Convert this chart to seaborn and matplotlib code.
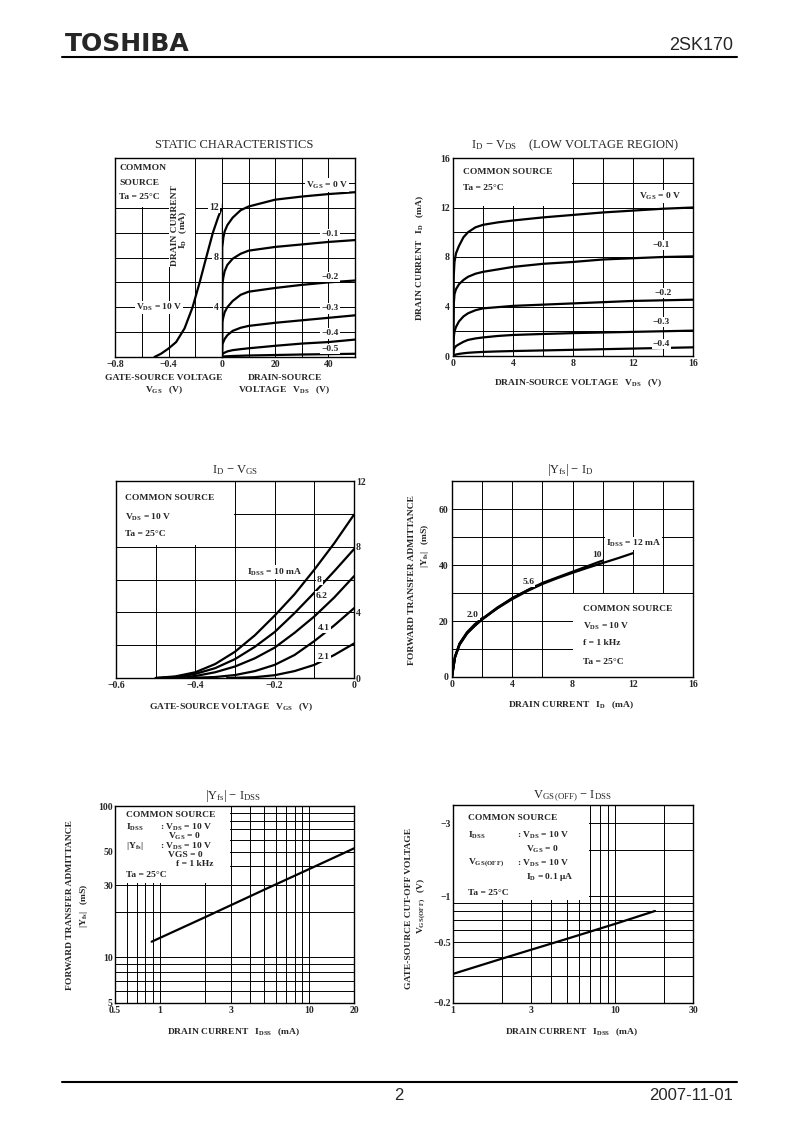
import matplotlib
matplotlib.use('Agg')
import seaborn as sns
import matplotlib.pyplot as plt
from matplotlib.patches import Rectangle
from matplotlib.lines import Line2D
from matplotlib.ticker import NullFormatter

# ---- values ----

# static characteristics, left half: ID vs VGS at VDS = 10 V
st_vgs = [-0.505, -0.455, -0.40, -0.343, -0.28, -0.22, -0.167, -0.118, -0.068, -0.03, -0.005]
st_id = [0, 0.27, 0.68, 1.2, 2.3, 4.0, 6.0, 8.0, 10.0, 11.2, 11.9]

# static characteristics, right half: ID vs VDS (0..50 V)
st_vds = [0, 0.1, 0.5, 1, 2, 4, 7, 10, 20, 30, 40, 50]
st_id_0 = [0, 8.8, 9.6, 10.1, 10.6, 11.2, 11.8, 12.1, 12.65, 12.9, 13.1, 13.25]
st_id_1 = [0, 5.8, 6.4, 6.9, 7.4, 7.9, 8.3, 8.55, 8.85, 9.05, 9.25, 9.4]
st_id_2 = [0, 2.8, 3.2, 3.6, 4.0, 4.5, 5.0, 5.25, 5.55, 5.8, 6.0, 6.15]
st_id_3 = [0, 1.0, 1.2, 1.45, 1.75, 2.1, 2.35, 2.5, 2.75, 2.95, 3.15, 3.35]
st_id_4 = [0, 0.2, 0.3, 0.35, 0.45, 0.55, 0.63, 0.7, 0.9, 1.08, 1.2, 1.4]
st_id_5 = [0, 0.02, 0.04, 0.05, 0.06, 0.08, 0.1, 0.12, 0.16, 0.2, 0.23, 0.26]
st_labels = [r'$\mathbf{V_{GS}}$ = 0 V', '−0.1', '−0.2', '−0.3', '−0.4', '−0.5']

# ID - VDS low voltage region
lv_vds = [0, 0.05, 0.1, 0.2, 0.4, 0.7, 1, 1.5, 2, 3, 4, 6, 8, 10, 12, 14, 16]
lv_id_0 = [0, 6.5, 7.6, 8.3, 8.9, 9.6, 10.0, 10.4, 10.6, 10.8, 10.95, 11.2, 11.4, 11.6, 11.75, 11.9, 12.0]
lv_id_1 = [0, 4.2, 5.0, 5.4, 5.8, 6.15, 6.4, 6.65, 6.8, 7.0, 7.2, 7.45, 7.6, 7.8, 7.9, 8.0, 8.05]
lv_id_2 = [0, 1.5, 2.0, 2.35, 2.8, 3.2, 3.45, 3.7, 3.85, 3.95, 4.05, 4.15, 4.25, 4.35, 4.45, 4.5, 4.55]
lv_id_3 = [0, 0.45, 0.65, 0.8, 0.95, 1.15, 1.3, 1.42, 1.5, 1.62, 1.7, 1.78, 1.85, 1.9, 1.95, 2.0, 2.05]
lv_id_4 = [0, 0.04, 0.08, 0.12, 0.17, 0.22, 0.26, 0.3, 0.33, 0.37, 0.4, 0.45, 0.5, 0.55, 0.6, 0.65, 0.7]
lv_labels = [r'$\mathbf{V_{GS}}$ = 0 V', '−0.1', '−0.2', '−0.3', '−0.4']

# ID - VGS for several IDSS
tv_vgs = [-0.5, -0.45, -0.4, -0.35, -0.3, -0.25, -0.2, -0.15, -0.1, -0.05, 0]
tv_id_10 = [0, 0.1, 0.35, 0.85, 1.6, 2.6, 3.8, 5.1, 6.6, 8.2, 9.95]
tv_id_8 = [0, 0.06, 0.25, 0.6, 1.15, 1.9, 2.8, 3.95, 5.2, 6.5, 7.85]
tv_vgs_62 = [-0.48, -0.45, -0.4, -0.35, -0.3, -0.25, -0.2, -0.15, -0.1, -0.05, 0]
tv_id_62 = [0, 0.02, 0.12, 0.35, 0.7, 1.2, 1.85, 2.75, 3.75, 4.9, 6.2]
tv_vgs_41 = [-0.42, -0.35, -0.3, -0.25, -0.2, -0.15, -0.1, -0.05, 0]
tv_id_41 = [0, 0.06, 0.18, 0.42, 0.8, 1.4, 2.25, 3.2, 4.25]
tv_vgs_21 = [-0.32, -0.25, -0.2, -0.15, -0.1, -0.05, 0]
tv_id_21 = [0, 0.05, 0.17, 0.42, 0.8, 1.4, 2.1]
tv_labels = [r'$\mathbf{I_{DSS}}$ = 10 mA', '8', '6.2', '4.1', '2.1']

# |Yfs| - ID
yf_id_12 = [0, 0.05, 0.2, 0.5, 1, 1.5, 2, 3, 4, 5, 6, 7, 8, 9, 10, 11, 12]
yf_12 = [0, 3, 7, 11.5, 15.5, 18.3, 20.5, 24.5, 27.8, 30.7, 33.2, 35.3, 37.2, 39.0, 40.7, 42.4, 44.2]
yf_id_10 = [0, 0.2, 0.5, 1, 2, 4, 6, 8, 10]
yf_10 = [0, 7.2, 11.8, 15.8, 20.8, 28.2, 33.6, 37.6, 41.6]
yf_id_56 = [0, 0.2, 0.5, 1, 2, 3, 4, 5, 5.6]
yf_56 = [0, 7.0, 11.6, 15.7, 20.7, 24.8, 28.1, 31.0, 32.6]
yf_id_20 = [0, 0.2, 0.5, 1, 1.5, 2.0]
yf_20 = [0, 7.3, 12.0, 16.0, 18.8, 21.0]
yf_labels = [r'$\mathbf{I_{DSS}}$ = 12 mA', '10', '5.6', '2.0']

# |Yfs| - IDSS
yi_idss = [0.88, 2, 5, 10, 20]
yi_yfs = [12.7, 18.4, 28.0, 38.3, 52.5]

# VGS(OFF) - IDSS
vo_idss = [1, 2, 3, 5, 10, 17.5]
vo_vgs = [-0.31, -0.39, -0.445, -0.525, -0.66, -0.80]

sns.set_style('white')
plt.rcParams['font.family'] = ['Liberation Serif', 'DejaVu Serif']
plt.rcParams['mathtext.fontset'] = 'custom'
plt.rcParams['mathtext.rm'] = 'Liberation Serif'
plt.rcParams['mathtext.bf'] = 'Liberation Serif:bold'
plt.rcParams['mathtext.it'] = 'Liberation Serif:italic'
plt.rcParams['axes.unicode_minus'] = True

W, H = 806, 1135
fig = plt.figure(figsize=(W / 100, H / 100), dpi=100)
SM = 6.8   # small bold text
TK = 7.0   # tick labels
TT = 9.0   # titles
CW = 1.6   # curve width


def add_ax(l, t, r, b):
    return fig.add_axes([l / W, 1 - b / H, (r - l) / W, (b - t) / H])


def txt(x, y, s, size=SM, bold=True, ha='center', va='center', rot=0, **kw):
    fig.text(x / W, 1 - y / H, s, fontsize=size, fontweight='bold' if bold else 'normal',
             ha=ha, va=va, rotation=rot, **kw)


def frame(ax):
    sns.despine(ax=ax, top=False, right=False, left=False, bottom=False)
    for s in ax.spines.values():
        s.set_color('black')
        s.set_linewidth(1.0)
    ax.set_axisbelow(True)
    ax.grid(True, which='both', color='black', lw=0.7)
    ax.tick_params(which='both', length=0, pad=2.5)


def curve(ax, xs, ys):
    sns.lineplot(x=xs, y=ys, ax=ax, color='black', lw=CW, estimator=None, sort=False)


def blank(ax, x0, y0, x1, y1):
    ax.add_patch(Rectangle((x0, y0), x1 - x0, y1 - y0, fc='white', ec='none', zorder=1))


WB = dict(boxstyle='square,pad=0.12', fc='white', ec='none')
tkw = dict(fontsize=TK, fontweight='bold')

# ---------------- header / footer ----------------
txt(65, 44, 'TOSHIBA', size=18, ha='left', family='DejaVu Sans')
txt(733, 45, '2SK170', size=13, bold=False, ha='right', family='Liberation Sans')
fig.add_artist(Line2D([62 / W, 737 / W], [1 - 57 / H] * 2, color='black', lw=1.5))
fig.add_artist(Line2D([62 / W, 737 / W], [1 - 1082 / H] * 2, color='black', lw=1.5))
txt(399, 1096, '2', size=12, bold=False, family='Liberation Sans')
txt(733, 1096, '2007-11-01', size=12, bold=False, ha='right', family='Liberation Sans')

# ---------------- STATIC CHARACTERISTICS ----------------
a1 = add_ax(115, 158, 222, 357)
b1 = add_ax(222, 158, 355, 357)
curve(a1, st_vgs, st_id)
for ys in [st_id_0, st_id_1, st_id_2, st_id_3, st_id_4, st_id_5]:
    curve(b1, st_vds, ys)
for ax in (a1, b1):
    frame(ax)
a1.set_xlim(-0.8, 0)
a1.set_ylim(0, 16)
b1.set_xlim(0, 50)
b1.set_ylim(0, 16)
a1.set_xticks([-0.8, -0.6, -0.4, -0.2, 0], ['−0.8', '', '−0.4', '', '0'], **tkw)
a1.set_yticks([2, 4, 6, 8, 10, 12], [''] * 6)
b1.set_xticks([0, 10, 20, 30, 40, 50], ['', '', '20', '', '40', ''], **tkw)
b1.set_yticks([2, 4, 6, 8, 10, 12, 14], [''] * 7)
b1.spines['left'].set_visible(False)
a1.spines['right'].set_bounds(0, 12.3)
blank(a1, -0.8, 12.1, -0.405, 16)
blank(a1, -0.395, 7.2, -0.205, 16)
blank(a1, -0.195, 12.1, 0, 16)
for s, y in zip(['COMMON', 'SOURCE', 'Ta = 25°C'], [15.2, 14.0, 12.9]):
    a1.text(-0.768, y, s, fontsize=SM, fontweight='bold', ha='left', va='center')
a1.text(-0.351, 10.55, 'DRAIN CURRENT', rotation=90, fontsize=SM, fontweight='bold', ha='center', va='center')
a1.text(-0.289, 10.2, r'$\mathbf{I_D}$   (mA)', rotation=90, fontsize=SM, fontweight='bold', ha='center', va='center')
a1.text(-0.471, 4.0, r'$\mathbf{V_{DS}}$ = 10 V', fontsize=SM, fontweight='bold', ha='center', va='center', bbox=WB)
for v in [12, 8, 4]:
    a1.text(-0.025, v, str(v), fontsize=TK, fontweight='bold', ha='right', va='center', bbox=WB)
for s, x, y in zip(st_labels, [39.5, 40.6, 40.6, 40.6, 40.6, 40.6], [13.83, 9.86, 6.46, 3.91, 1.9, 0.64]):
    b1.text(x, y, s, fontsize=SM, fontweight='bold', ha='center', va='center', bbox=WB)
txt(234, 145, 'STATIC CHARACTERISTICS', size=TT, bold=False)
txt(164, 378, 'GATE-SOURCE VOLTAGE')
txt(164, 390, r'$\mathbf{V_{GS}}$   (V)')
txt(285, 378, 'DRAIN-SOURCE')
txt(284, 390, r'VOLTAGE   $\mathbf{V_{DS}}$   (V)')

# ---------------- ID - VDS (LOW VOLTAGE REGION) ----------------
a2 = add_ax(453, 158, 693, 356)
for ys in [lv_id_0, lv_id_1, lv_id_2, lv_id_3, lv_id_4]:
    curve(a2, lv_vds, ys)
frame(a2)
a2.set_xlim(0, 16)
a2.set_ylim(0, 16)
a2.set_xticks(range(0, 17, 2), ['0', '', '4', '', '8', '', '12', '', '16'], **tkw)
a2.set_yticks(range(0, 17, 2), ['0', '', '4', '', '8', '', '12', '', '16'], **tkw)
blank(a2, 0, 12.1, 7.95, 16)
a2.text(0.69, 14.84, 'COMMON SOURCE', fontsize=SM, fontweight='bold', ha='left', va='center')
a2.text(0.69, 13.55, 'Ta = 25°C', fontsize=SM, fontweight='bold', ha='left', va='center')
for s, x, y in zip(lv_labels, [13.8, 13.9, 14.0, 13.9, 13.9], [12.87, 8.97, 5.07, 2.77, 0.95]):
    a2.text(x, y, s, fontsize=SM, fontweight='bold', ha='center', va='center', bbox=WB)
txt(575, 145, r'$\mathrm{I_D}$ − $\mathrm{V_{DS}}$    (LOW VOLTAGE REGION)', size=TT, bold=False)
txt(420, 258, r'DRAIN CURRENT   $\mathbf{I_D}$   (mA)', rot=90)
txt(578, 383, r'DRAIN-SOURCE VOLTAGE   $\mathbf{V_{DS}}$   (V)')

# ---------------- ID - VGS ----------------
a3 = add_ax(116, 481, 354, 678)
curve(a3, tv_vgs, tv_id_10)
curve(a3, tv_vgs, tv_id_8)
curve(a3, tv_vgs_62, tv_id_62)
curve(a3, tv_vgs_41, tv_id_41)
curve(a3, tv_vgs_21, tv_id_21)
frame(a3)
a3.set_xlim(-0.6, 0)
a3.set_ylim(0, 12)
a3.set_xticks([-0.6, -0.5, -0.4, -0.3, -0.2, -0.1, 0], ['−0.6', '', '−0.4', '', '−0.2', '', '0'], **tkw)
a3.yaxis.tick_right()
a3.set_yticks(range(0, 13, 2), ['0', '', '4', '', '8', '', '12'], **tkw)
a3.tick_params(axis='y', pad=1.5)
blank(a3, -0.6, 8.08, -0.303, 12)
for s, y in zip(['COMMON SOURCE', r'$\mathbf{V_{DS}}$ = 10 V', 'Ta = 25°C'], [10.96, 9.8, 8.77]):
    a3.text(-0.577, y, s, fontsize=SM, fontweight='bold', ha='left', va='center')
for s, x, y in zip(tv_labels, [-0.2, -0.088, -0.081, -0.077, -0.077], [6.45, 5.97, 4.99, 3.03, 1.3]):
    a3.text(x, y, s, fontsize=SM, fontweight='bold', ha='center', va='center', bbox=WB)
txt(235, 470, r'$\mathrm{I_D}$ − $\mathrm{V_{GS}}$', size=TT, bold=False)
txt(231, 707, r'GATE-SOURCE VOLTAGE   $\mathbf{V_{GS}}$   (V)')

# ---------------- |Yfs| - ID ----------------
a4 = add_ax(452, 481, 693, 677)
curve(a4, yf_id_12, yf_12)
curve(a4, yf_id_10, yf_10)
curve(a4, yf_id_56, yf_56)
curve(a4, yf_id_20, yf_20)
frame(a4)
a4.set_xlim(0, 16)
a4.set_ylim(0, 70)
a4.set_xticks(range(0, 17, 2), ['0', '', '4', '', '8', '', '12', '', '16'], **tkw)
a4.set_yticks(range(0, 71, 10), ['0', '', '20', '', '40', '', '60', ''], **tkw)
blank(a4, 8.06, 0, 16, 29.7)
for s, y in zip(['COMMON SOURCE', r'$\mathbf{V_{DS}}$ = 10 V', 'f = 1 kHz', 'Ta = 25°C'], [24.3, 18.2, 12.1, 5.4]):
    a4.text(8.7, y, s, fontsize=SM, fontweight='bold', ha='left', va='center')
for s, x, y in zip(yf_labels, [12.04, 9.6, 5.05, 1.36], [47.75, 43.6, 34.0, 22.1]):
    a4.text(x, y, s, fontsize=SM, fontweight='bold', ha='center', va='center', bbox=WB)
txt(570, 470, r'$\mathrm{|Y_{fs}|}$ − $\mathrm{I_D}$', size=TT, bold=False)
txt(412, 580, 'FORWARD TRANSFER ADMITTANCE', rot=90)
txt(425, 546, r'$\mathbf{|Y_{fs}|}$   (mS)', rot=90)
txt(571, 705, r'DRAIN CURRENT   $\mathbf{I_D}$   (mA)')

# ---------------- |Yfs| - IDSS ----------------
a5 = add_ax(115, 806, 354, 1003)
curve(a5, yi_idss, yi_yfs)
a5.set_xscale('log')
a5.set_yscale('log')
frame(a5)
a5.set_xlim(0.5, 20)
a5.set_ylim(5, 100)
a5.set_xticks([0.5, 1, 3, 10, 20], ['0.5', '1', '3', '10', '20'], **tkw)
a5.set_xticks([0.6, 0.7, 0.8, 0.9, 2, 4, 5, 6, 7, 8, 9], minor=True)
a5.set_yticks([5, 10, 30, 50, 100], ['5', '10', '30', '50', '100'], **tkw)
a5.set_yticks([6, 7, 8, 9, 20, 40, 60, 70, 80, 90], minor=True)
a5.xaxis.set_minor_formatter(NullFormatter())
a5.yaxis.set_minor_formatter(NullFormatter())
a5.tick_params(axis='y', pad=1.5)
blank(a5, 0.5, 31, 2.96, 100)
txt(126, 815, 'COMMON SOURCE', ha='left')
txt(126, 827, r'$\mathbf{I_{DSS}}$', ha='left')
txt(160, 827, r': $\mathbf{V_{DS}}$ = 10 V', ha='left')
txt(168, 836, r'$\mathbf{V_{GS}}$ = 0', ha='left')
txt(126, 846, r'$\mathbf{|Y_{fs}|}$', ha='left')
txt(160, 846, r': $\mathbf{V_{DS}}$ = 10 V', ha='left')
txt(168, 855, 'VGS = 0', ha='left')
txt(176, 864, 'f = 1 kHz', ha='left')
txt(126, 875, 'Ta = 25°C', ha='left')
txt(233, 796, r'$\mathrm{|Y_{fs}|}$ − $\mathrm{I_{DSS}}$', size=TT, bold=False)
txt(70, 905, 'FORWARD TRANSFER ADMITTANCE', rot=90)
txt(84, 906, r'$\mathbf{|Y_{fs}|}$   (mS)', rot=90)
txt(234, 1032, r'DRAIN CURRENT   $\mathbf{I_{DSS}}$   (mA)')

# ---------------- VGS(OFF) - IDSS ----------------
a6 = add_ax(453, 805, 693, 1003)
curve(a6, vo_idss, [-v for v in vo_vgs])   # plotted as magnitude on a log axis
a6.set_xscale('log')
a6.set_yscale('log')
frame(a6)
a6.set_xlim(1, 30)
a6.set_ylim(0.2, 3.95)
a6.set_xticks([1, 3, 10, 30], ['1', '3', '10', '30'], **tkw)
a6.set_xticks([2, 4, 5, 6, 7, 8, 9, 20], minor=True)
a6.set_yticks([0.2, 0.5, 1, 3], ['−0.2', '−0.5', '−1', '−3'], **tkw)
a6.set_yticks([0.3, 0.4, 0.6, 0.7, 0.8, 0.9, 2], minor=True)
a6.xaxis.set_minor_formatter(NullFormatter())
a6.yaxis.set_minor_formatter(NullFormatter())
a6.tick_params(axis='y', pad=1.5)
blank(a6, 1, 0.95, 6.85, 3.95)
txt(468, 818, 'COMMON SOURCE', ha='left')
txt(468, 835, r'$\mathbf{I_{DSS}}$', ha='left')
txt(517, 835, r': $\mathbf{V_{DS}}$ = 10 V', ha='left')
txt(526, 849, r'$\mathbf{V_{GS}}$ = 0', ha='left')
txt(468, 863, r'$\mathbf{V_{GS\,(OFF)}}$', ha='left')
txt(517, 863, r': $\mathbf{V_{DS}}$ = 10 V', ha='left')
txt(526, 877, r'$\mathbf{I_D}$ = 0.1 μA', ha='left')
txt(468, 893, 'Ta = 25°C', ha='left')
txt(572, 796, r'$\mathrm{V_{GS\,(OFF)}}$ − $\mathrm{I_{DSS}}$', size=TT, bold=False)
txt(409, 908, 'GATE-SOURCE CUT-OFF VOLTAGE', rot=90)
txt(422, 906, r'$\mathbf{V_{GS\,(OFF)}}$   (V)', rot=90)
txt(572, 1032, r'DRAIN CURRENT   $\mathbf{I_{DSS}}$   (mA)')

fig.savefig('out.png', dpi=100, facecolor='white')
